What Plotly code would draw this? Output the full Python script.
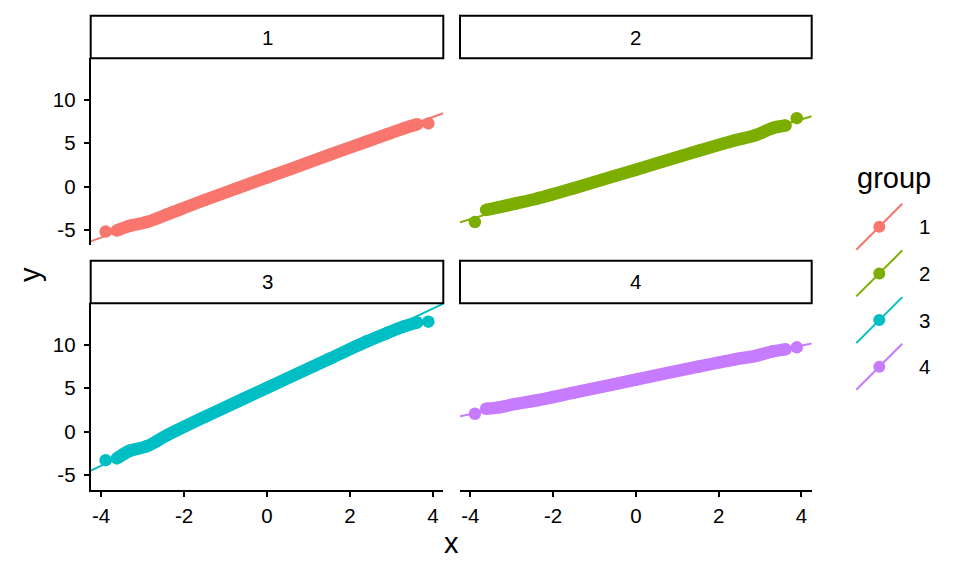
import plotly.graph_objects as go

# Teorijski kvantili (isti za sve grupe) i ocitane vrednosti uzorka
groups = ["1", "2", "3", "4"]
colors = ["#F8766D", "#7CAE00", "#00BFC4", "#C77CFF"]

band_q = [-3.62, -3.3, -2.9, -2.4, -1.5, 0, 1.5, 2.4, 2.9, 3.3, 3.62]
band_y = {
    "1": [-5.07, -4.53, -4.1, -3.2, -1.55, 1.05, 3.65, 5.2, 6.05, 6.73, 7.2],
    "2": [-2.7, -2.38, -1.95, -1.4, -0.2, 1.95, 4.1, 5.35, 5.95, 6.75, 7.05],
    "3": [-3.1, -2.2, -1.7, -0.4, 1.7, 5.05, 8.4, 10.4, 11.4, 12.15, 12.6],
    "4": [2.64, 2.8, 3.2, 3.6, 4.5, 6.0, 7.5, 8.35, 8.75, 9.25, 9.5],
}
tail_q = [-3.89, 3.89]
tail_y = {
    "1": [-5.2, 7.3],
    "2": [-4.1, 7.9],
    "3": [-3.3, 12.7],
    "4": [2.06, 9.73],
}

# QQ linija: odsecak i nagib
line_intercept = [1.07, 2.0, 5.13, 5.97]
line_slope = [1.74, 1.44, 2.27, 0.99]

x_ticks = [-4, -2, 0, 2, 4]
x_ticktext = ["-4", "-2", "0", "2", "4"]
y_ticks = [-5, 0, 5, 10]
y_ticktext = ["-5", "0", "5", "10"]

x_range = [-4.25, 4.25]
y_range = [-6.75, 14.82]

W, H = 960, 576
FONT = "Liberation Sans, Arial, sans-serif"
SMALL = 20.5
BIG = 29


def px(x):
    return x / W


def py(y):
    return 1 - y / H


# Panel raspored (pikseli)
col_x = [(90.7, 443.3), (460.0, 811.7)]
row_y = [(58.3, 245.0), (303.3, 490.0)]
strip_y = [(15.7, 58.3), (260.7, 303.3)]

fig = go.Figure()

for i, g in enumerate(groups):
    xa = "x" if i == 0 else "x%d" % (i + 1)
    ya = "y" if i == 0 else "y%d" % (i + 1)
    c = colors[i]
    # tacke (gust pojas)
    fig.add_trace(go.Scatter(x=band_q, y=band_y[g], mode="lines+markers",
                             line=dict(color=c, width=12.5, shape="spline"),
                             marker=dict(color=c, size=12.5),
                             xaxis=xa, yaxis=ya, showlegend=False, hoverinfo="skip"))
    fig.add_trace(go.Scatter(x=tail_q, y=tail_y[g], mode="markers",
                             marker=dict(color=c, size=12.5),
                             xaxis=xa, yaxis=ya, showlegend=False, hoverinfo="skip"))
    # qq linija
    lx = x_range
    ly = [line_intercept[i] + line_slope[i] * v for v in lx]
    fig.add_trace(go.Scatter(x=lx, y=ly, mode="lines",
                             line=dict(color=c, width=2),
                             xaxis=xa, yaxis=ya, showlegend=False, hoverinfo="skip"))

tickfont = dict(family=FONT, size=SMALL, color="black")
layout = dict(width=W, height=H, margin=dict(l=0, r=0, t=0, b=0),
              plot_bgcolor="white", paper_bgcolor="white", showlegend=False)

for i in range(4):
    r, cidx = divmod(i, 2)
    sfx = "" if i == 0 else str(i + 1)
    anchor_x = "x" + sfx
    anchor_y = "y" + sfx
    bottom = r == 1
    left = cidx == 0
    layout["xaxis" + sfx] = dict(
        domain=[px(col_x[cidx][0]), px(col_x[cidx][1])], anchor=anchor_y,
        range=x_range, showgrid=False, zeroline=False,
        showline=bottom, linecolor="black", linewidth=2,
        ticks="outside" if bottom else "", ticklen=5, tickwidth=2, tickcolor="black",
        tickvals=x_ticks, ticktext=x_ticktext, showticklabels=bottom,
        tickfont=tickfont, ticklabelstandoff=1)
    layout["yaxis" + sfx] = dict(
        domain=[py(row_y[r][1]), py(row_y[r][0])], anchor=anchor_x,
        range=y_range, showgrid=False, zeroline=False,
        showline=left, linecolor="black", linewidth=2,
        ticks="outside" if left else "", ticklen=5, tickwidth=2, tickcolor="black",
        tickvals=y_ticks, ticktext=y_ticktext, showticklabels=left,
        tickfont=tickfont, ticklabelstandoff=4)

shapes = []
annotations = []

# Trake sa nazivima panela
for i, g in enumerate(groups):
    r, cidx = divmod(i, 2)
    shapes.append(dict(type="rect", xref="paper", yref="paper",
                       x0=px(col_x[cidx][0]), x1=px(col_x[cidx][1]),
                       y0=py(strip_y[r][1]), y1=py(strip_y[r][0]),
                       line=dict(color="black", width=2), fillcolor="white", layer="above"))
    annotations.append(dict(text=g, xref="paper", yref="paper", showarrow=False,
                            x=px((col_x[cidx][0] + col_x[cidx][1]) / 2),
                            y=py((strip_y[r][0] + strip_y[r][1]) / 2),
                            xanchor="center", yanchor="middle",
                            font=dict(family=FONT, size=SMALL, color="black")))

# Nazivi osa
annotations.append(dict(text="x", xref="paper", yref="paper", showarrow=False,
                        x=px(451), y=py(543), xanchor="center", yanchor="middle",
                        font=dict(family=FONT, size=BIG, color="black")))
annotations.append(dict(text="y", xref="paper", yref="paper", showarrow=False,
                        x=px(30), y=py(275), xanchor="center", yanchor="middle", textangle=-90,
                        font=dict(family=FONT, size=BIG, color="black")))

# Legenda (rucno, dijagonalni kljuc kao u ggplot-u)
annotations.append(dict(text="group", xref="paper", yref="paper", showarrow=False,
                        x=px(855), y=py(178), xanchor="left", yanchor="middle",
                        font=dict(family=FONT, size=BIG, color="black")))
for i, g in enumerate(groups):
    cx, cy = 879.3, 226.7 + 46.7 * i
    shapes.append(dict(type="line", xref="paper", yref="paper",
                       x0=px(cx - 23), y0=py(cy + 23), x1=px(cx + 23), y1=py(cy - 23),
                       line=dict(color=colors[i], width=2)))
    shapes.append(dict(type="circle", xref="paper", yref="paper",
                       xsizemode="pixel", ysizemode="pixel",
                       xanchor=px(cx), yanchor=py(cy), x0=-6, x1=6, y0=-6, y1=6,
                       line=dict(width=0), fillcolor=colors[i]))
    annotations.append(dict(text=g, xref="paper", yref="paper", showarrow=False,
                            x=px(917), y=py(cy), xanchor="left", yanchor="middle",
                            font=dict(family=FONT, size=SMALL, color="black")))

layout["shapes"] = shapes
layout["annotations"] = annotations
fig.update_layout(**layout)

# bez podrazumevane margine stranice i bez trake sa alatkama
fig.write_html("out.html", config={"displayModeBar": False},
               post_script="document.body.style.margin='0';")
